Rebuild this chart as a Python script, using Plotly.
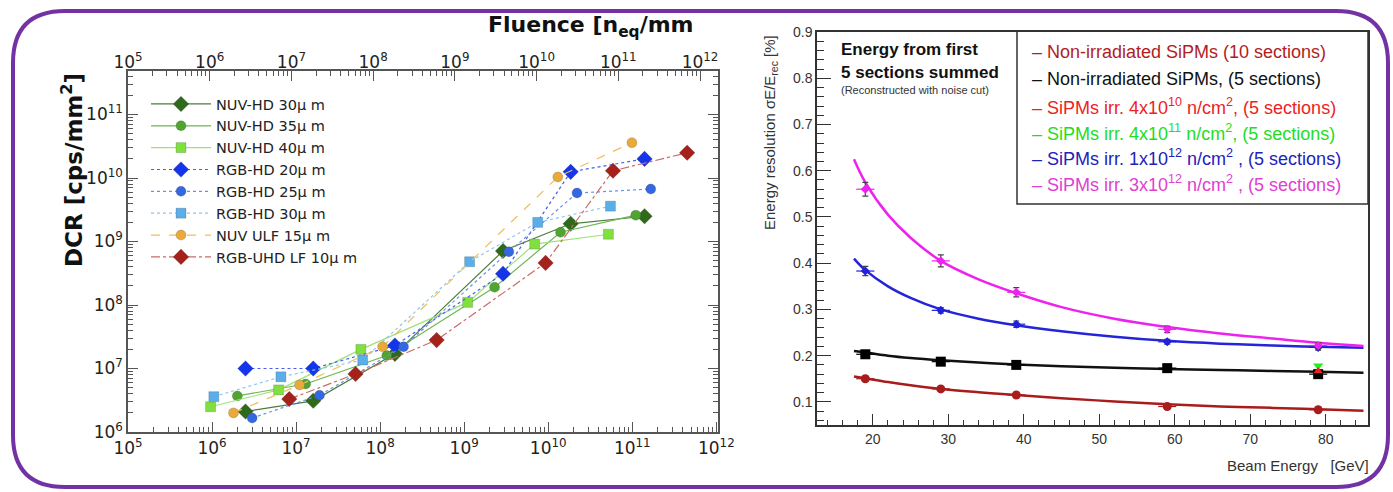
import plotly.graph_objects as go

W, H = 1393, 492

# ---------------- Left panel data: DCR vs fluence ----------------
dcr_names = ["NUV-HD 30μ m", "NUV-HD 35μ m", "NUV-HD 40μ m", "RGB-HD 20μ m",
             "RGB-HD 25μ m", "RGB-HD 30μ m", "NUV ULF 15μ m", "RGB-UHD LF 10μ m"]
nuvhd30_x = [2.5e6, 1.6e7, 1.5e8, 2.9e9, 1.85e10, 1.4e11]
nuvhd30_y = [2.1e6, 3.1e6, 1.7e7, 7.1e8, 1.9e9, 2.5e9]
nuvhd35_x = [2.0e6, 1.3e7, 1.2e8, 2.3e9, 1.4e10, 1.1e11]
nuvhd35_y = [3.7e6, 5.7e6, 1.6e7, 1.9e8, 1.4e9, 2.6e9]
nuvhd40_x = [0.96e6, 6.2e6, 5.9e7, 1.1e9, 6.9e9, 5.2e10]
nuvhd40_y = [2.5e6, 4.6e6, 2.0e7, 1.1e8, 9.1e8, 1.3e9]
rgbhd20_x = [2.5e6, 1.6e7, 1.5e8, 2.9e9, 1.85e10, 1.4e11]
rgbhd20_y = [1.0e7, 1.0e7, 2.3e7, 3.1e8, 1.25e10, 2.0e10]
rgbhd25_x = [3.0e6, 1.9e7, 1.9e8, 3.4e9, 2.2e10, 1.66e11]
rgbhd25_y = [1.66e6, 3.8e6, 2.2e7, 6.9e8, 5.8e9, 6.7e9]
rgbhd30_x = [1.05e6, 6.6e6, 6.2e7, 1.16e9, 7.5e9, 5.5e10]
rgbhd30_y = [3.6e6, 7.4e6, 1.36e7, 4.8e8, 2.0e9, 3.6e9]
nuvulf_x = [1.8e6, 1.1e7, 1.07e8, 1.3e10, 9.9e10]
nuvulf_y = [2.0e6, 5.5e6, 2.2e7, 1.04e10, 3.6e10]
rgbuhd_x = [8.3e6, 5.1e7, 4.7e8, 9.3e9, 5.9e10, 4.5e11]
rgbuhd_y = [3.3e6, 8.2e6, 2.8e7, 4.6e8, 1.3e10, 2.5e10]

dcr_x = [nuvhd30_x, nuvhd35_x, nuvhd40_x, rgbhd20_x, rgbhd25_x, rgbhd30_x, nuvulf_x, rgbuhd_x]
dcr_y = [nuvhd30_y, nuvhd35_y, nuvhd40_y, rgbhd20_y, rgbhd25_y, rgbhd30_y, nuvulf_y, rgbuhd_y]
dcr_colors = ["#2f6a1b", "#4fa52f", "#80e040", "#1535ea", "#3467e2", "#5aaeea", "#eaaa3a", "#a4221b"]
dcr_linecolors = ["#4a7d3a", "#6fb555", "#9ee27a", "#4a5ef0", "#6b8ee8", "#8cc6ef", "#efbe60", "#cc6a66"]
dcr_symbols = ["diamond", "circle", "square", "diamond", "circle", "square", "circle", "diamond"]
dcr_dash = ["solid", "solid", "solid", "dot", "dot", "dot", "dash", "dashdot"]
dcr_sizes = [12, 10, 10, 12, 10, 10, 10, 12]

log_ticks = [1e5, 1e6, 1e7, 1e8, 1e9, 1e10, 1e11, 1e12]
log_ticktext = ["10<sup>5</sup>", "10<sup>6</sup>", "10<sup>7</sup>", "10<sup>8</sup>",
                "10<sup>9</sup>", "10<sup>10</sup>", "10<sup>11</sup>", "10<sup>12</sup>"]
dcr_yticks = [1e6, 1e7, 1e8, 1e9, 1e10, 1e11]
dcr_yticktext = ["10<sup>6</sup>", "10<sup>7</sup>", "10<sup>8</sup>", "10<sup>9</sup>",
                 "10<sup>10</sup>", "10<sup>11</sup>"]

# ---------------- Right panel data: energy resolution ----------------
beam_energy = [19, 29, 39, 59, 79]
res_10sec = [0.150, 0.128, 0.115, 0.090, 0.083]
res_5sec = [0.203, 0.187, 0.180, 0.173, 0.160]
res_1e12 = [0.383, 0.298, 0.268, 0.230, 0.218]
res_3e12 = [0.560, 0.405, 0.337, 0.257, 0.222]
err_10sec = [0.004, 0.004, 0.004, 0.003, 0.003]
err_5sec = [0.005, 0.005, 0.005, 0.005, 0.005]
err_1e12 = [0.010, 0.006, 0.007, 0.005, 0.006]
err_3e12 = [0.015, 0.013, 0.010, 0.007, 0.006]
beam_energy_4e10 = [79]
res_4e10 = [0.167]
beam_energy_4e11 = [79]
res_4e11 = [0.178]

fit_x = [17.5, 19, 22, 25, 29, 34, 39, 45, 52, 59, 66, 73, 79, 85]
fit_10sec = [0.155, 0.151, 0.143, 0.136, 0.128, 0.121, 0.115, 0.108, 0.101, 0.095, 0.090, 0.087, 0.084, 0.081]
fit_5sec = [0.210, 0.207, 0.200, 0.195, 0.190, 0.185, 0.181, 0.177, 0.174, 0.171, 0.169, 0.167, 0.165, 0.163]
fit_1e12 = [0.410, 0.385, 0.350, 0.325, 0.300, 0.280, 0.266, 0.253, 0.241, 0.232, 0.226, 0.222, 0.219, 0.217]
fit_3e12 = [0.625, 0.575, 0.505, 0.455, 0.405, 0.365, 0.335, 0.305, 0.280, 0.262, 0.248, 0.237, 0.228, 0.221]

res_legend = ["– Non-irradiated SiPMs (10 sections)",
              "– Non-irradiated SiPMs, (5 sections)",
              "– SiPMs irr. 4x10<sup>10</sup> n/cm<sup>2</sup>, (5 sections)",
              "– SiPMs irr. 4x10<sup>11</sup> n/cm<sup>2</sup>, (5 sections)",
              "– SiPMs irr. 1x10<sup>12</sup> n/cm<sup>2</sup> , (5 sections)",
              "– SiPMs irr. 3x10<sup>12</sup> n/cm<sup>2</sup> , (5 sections)"]
res_legend_colors = ["#b01e1e", "#111111", "#ee2222", "#22dd22", "#2222bb", "#e040d0"]


def px(x):
    return x / W


def py(y):
    return 1 - y / H


fig = go.Figure()

for i, name in enumerate(dcr_names):
    fig.add_trace(go.Scatter(
        x=dcr_x[i], y=dcr_y[i], name=name, mode="lines+markers",
        xaxis="x", yaxis="y",
        line=dict(color=dcr_linecolors[i], width=1.2, dash=dcr_dash[i]),
        marker=dict(symbol=dcr_symbols[i], size=dcr_sizes[i], color=dcr_colors[i],
                    line=dict(color="rgba(60,60,60,0.35)", width=0.6)),
        legendgroup=name, showlegend=True))

# carrier (invisible) so that the separate top fluence axis is drawn
fig.add_trace(go.Scatter(x=nuvhd30_x, y=nuvhd30_y, xaxis="x3", yaxis="y", mode="markers",
                         marker=dict(opacity=0), showlegend=False, hoverinfo="skip"))

# right panel fits
fit_specs = [(fit_10sec, "#a81c1c"), (fit_5sec, "#111111"), (fit_1e12, "#2424d8"), (fit_3e12, "#ee22ee")]
for vals, col in fit_specs:
    fig.add_trace(go.Scatter(x=fit_x, y=vals, mode="lines", xaxis="x2", yaxis="y2",
                             line=dict(color=col, width=2.5, shape="spline"), showlegend=False,
                             hoverinfo="skip"))

pt_specs = [
    (beam_energy, res_10sec, err_10sec, "#a81c1c", "circle", 9),
    (beam_energy, res_5sec, err_5sec, "#000000", "square", 10),
    (beam_energy, res_1e12, err_1e12, "#2020dd", "diamond", 7),
    (beam_energy, res_3e12, err_3e12, "#ee22ee", "diamond", 7),
]
for xs, ys, es, col, sym, sz in pt_specs:
    fig.add_trace(go.Scatter(x=xs, y=ys, mode="markers", xaxis="x2", yaxis="y2",
                             marker=dict(symbol=sym, size=sz, color=col),
                             error_y=dict(type="data", array=es, color="#444444", thickness=1.2, width=3),
                             error_x=dict(type="constant", value=1.2, color=col, thickness=1.2, width=0),
                             showlegend=False))
fig.add_trace(go.Scatter(x=beam_energy_4e11, y=res_4e11, mode="markers", xaxis="x2", yaxis="y2",
                         marker=dict(symbol="triangle-down", size=9, color="#22ee22"), showlegend=False))
fig.add_trace(go.Scatter(x=beam_energy_4e10, y=res_4e10, mode="markers", xaxis="x2", yaxis="y2",
                         marker=dict(symbol="triangle-up", size=8, color="#ee2222"), showlegend=False))

left_font = dict(family="DejaVu Sans", size=17, color="#222222")
right_font = dict(family="Liberation Sans", size=14, color="#333333")

fig.update_layout(
    width=W, height=H, margin=dict(l=0, r=0, t=0, b=0, pad=0, autoexpand=False),
    paper_bgcolor="white", plot_bgcolor="white",
    xaxis=dict(type="log", range=[5, 12.02], domain=[px(128), px(718)], anchor="y",
               tickmode="array", tickvals=log_ticks, ticktext=log_ticktext, automargin=False,
               ticks="inside", ticklen=10, tickcolor="#555555", showline=True, linecolor="#555555",
               linewidth=1.5, showgrid=False, zeroline=False, tickfont=left_font,
               minor=dict(ticks="inside", ticklen=5, dtick="D1", tickcolor="#555555", showgrid=False)),
    xaxis3=dict(type="log", range=[5, 12.22], overlaying="x", side="top", anchor="y",
                tickmode="array", tickvals=log_ticks, ticktext=log_ticktext, automargin=False,
                ticks="inside", ticklen=10, tickcolor="#555555", showline=True, linecolor="#555555",
                linewidth=1.5, showgrid=False, zeroline=False, tickfont=left_font,
                ticklabelstandoff=-6,
                minor=dict(ticks="inside", ticklen=5, dtick="D1", tickcolor="#555555", showgrid=False)),
    yaxis=dict(type="log", range=[6, 11.685], domain=[py(432), py(71)], anchor="x",
               tickmode="array", tickvals=dcr_yticks, ticktext=dcr_yticktext, automargin=False,
               ticks="inside", ticklen=10, tickcolor="#555555", showline=True, linecolor="#555555",
               linewidth=1.5, mirror="ticks", showgrid=False, zeroline=False, tickfont=left_font,
               minor=dict(ticks="inside", ticklen=5, dtick="D1", tickcolor="#555555", showgrid=False)),
    xaxis2=dict(range=[12.6, 85.6], domain=[px(817), px(1368)], anchor="y2", automargin=False,
                tick0=0, dtick=10, ticks="inside", ticklen=11, tickcolor="#333333",
                showline=True, linecolor="#333333", linewidth=1.5, mirror=True,
                showgrid=False, zeroline=False, tickfont=right_font,
                minor=dict(ticks="inside", ticklen=5, dtick=2, tickcolor="#333333", showgrid=False)),
    yaxis2=dict(range=[0.05, 0.9001], domain=[py(425), py(32)], anchor="x2", automargin=False,
                tick0=0, dtick=0.1, tickformat=".1f", ticks="inside", ticklen=14, tickcolor="#333333",
                showline=True, linecolor="#333333", linewidth=1.5, mirror=True,
                showgrid=False, zeroline=False, tickfont=right_font,
                minor=dict(ticks="inside", ticklen=7, dtick=0.02, tickcolor="#333333", showgrid=False)),
    legend=dict(x=px(146), y=py(88), xanchor="left", yanchor="top", bgcolor="rgba(0,0,0,0)",
                font=dict(family="DejaVu Sans", size=14.5, color="#222222"), itemwidth=60,
                tracegroupgap=0),
)


def ann(text, x, y, size, color, family="Liberation Sans", xanchor="center", angle=0):
    return dict(text=text, x=px(x), y=py(y), xref="paper", yref="paper", xanchor=xanchor,
                yanchor="middle", showarrow=False, textangle=angle,
                font=dict(family=family, size=size, color=color))


annotations = [
    ann("<b>Fluence [n<sub>eq</sub>/mm</b>", 591, 26, 22, "#111111", family="DejaVu Sans"),
    ann("<b>DCR [cps/mm<sup>2</sup>]</b>", 72, 170, 23, "#111111", family="DejaVu Sans", angle=-90),
    ann("Energy resolution σE/E<sub>rec</sub> [%]", 770, 132, 15, "#333333", angle=-90),
    ann("Beam Energy   [GeV]", 1371, 465, 15, "#333333", xanchor="right"),
    ann("<b>Energy from first</b>", 839, 50, 17, "#111111", xanchor="left"),
    ann("<b>5 sections summed</b>", 839, 72, 17, "#111111", xanchor="left"),
    ann("(Reconstructed with noise cut)", 839, 90, 11, "#333333", xanchor="left"),
]
legend_rows_y = [52, 79, 106, 132, 157, 183]
for txt, col, yy in zip(res_legend, res_legend_colors, legend_rows_y):
    annotations.append(ann(txt, 1030, yy, 18, col, xanchor="left"))
fig.update_layout(annotations=annotations)

# legend box of right panel
shapes = [dict(type="rect", xref="paper", yref="paper", x0=px(1017), x1=px(1368), y0=py(204), y1=py(31),
               line=dict(color="#333333", width=1.5), fillcolor="rgba(0,0,0,0)")]

# purple rounded frame
L, R, T, B, r = 13, 1388, 11, 487, 52
path = (f"M {px(L + r)} {py(T)} L {px(R - r)} {py(T)} Q {px(R)} {py(T)} {px(R)} {py(T + r)} "
        f"L {px(R)} {py(B - r)} Q {px(R)} {py(B)} {px(R - r)} {py(B)} "
        f"L {px(L + r)} {py(B)} Q {px(L)} {py(B)} {px(L)} {py(B - r)} "
        f"L {px(L)} {py(T + r)} Q {px(L)} {py(T)} {px(L + r)} {py(T)} Z")
shapes.append(dict(type="path", path=path, xref="paper", yref="paper",
                   line=dict(color="#7232a3", width=4), fillcolor="rgba(0,0,0,0)"))
fig.update_layout(shapes=shapes)

fig.write_html("out.html", config={"displayModeBar": False},
               post_script="document.body.style.margin='0px';document.body.style.overflow='hidden';")
